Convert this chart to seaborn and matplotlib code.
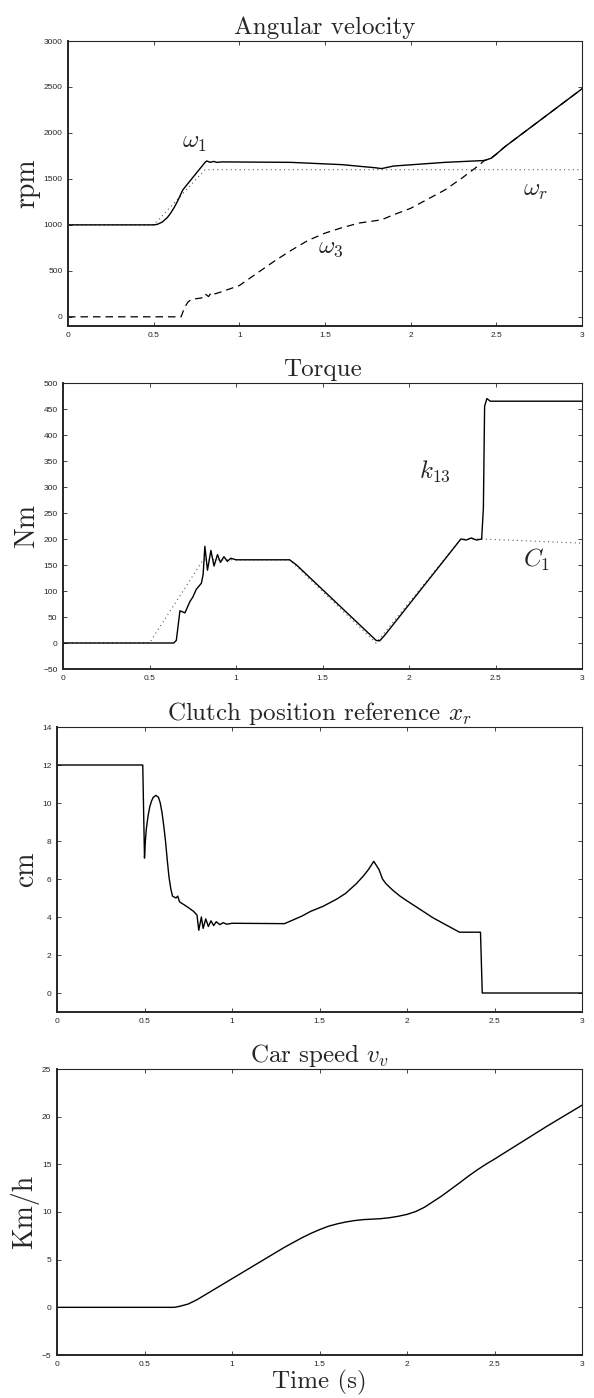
import numpy as np
import matplotlib
matplotlib.use("Agg")
import matplotlib.pyplot as plt
import seaborn as sns

# --- dados ---
xtick_vals = [0, 0.5, 1, 1.5, 2, 2.5, 3]
xtick_labels = ["0", "0.5", "1", "1.5", "2", "2.5", "3"]

# velocidade angular (rpm)
t_w1 = [0, 0.5, 0.52, 0.55, 0.58, 0.6, 0.62, 0.64, 0.66, 0.67, 0.7, 0.75, 0.8, 0.81, 0.83,
        0.85, 0.87, 0.9, 1.3, 1.6, 1.8, 1.83, 1.9, 2.2, 2.43, 2.47, 2.5, 2.55, 2.6, 3.0]
w1 = [1000, 1000, 1005, 1030, 1080, 1130, 1190, 1260, 1340, 1380, 1450, 1565, 1680, 1695, 1680,
      1690, 1680, 1685, 1680, 1655, 1620, 1612, 1640, 1680, 1700, 1725, 1770, 1850, 1920, 2480]
t_wr = [0, 0.5, 0.8, 3.0]
wr = [1000, 1000, 1600, 1600]
t_w3 = [0, 0.66, 0.68, 0.7, 0.72, 0.76, 0.78, 0.8, 0.82, 0.84, 0.86, 0.9, 1.0, 1.1, 1.2, 1.3,
        1.4, 1.5, 1.6, 1.7, 1.83, 1.9, 2.0, 2.1, 2.2, 2.3, 2.4, 2.43, 2.47, 2.5, 2.55, 2.6, 3.0]
w3 = [0, 0, 100, 160, 190, 200, 205, 250, 220, 270, 250, 275, 340, 470, 600, 720,
      830, 910, 970, 1020, 1055, 1110, 1180, 1280, 1380, 1510, 1650, 1700, 1725, 1770, 1850, 1920, 2480]

# torque (Nm)
t_k13 = [0, 0.64, 0.655, 0.676, 0.69, 0.705, 0.734, 0.75, 0.77, 0.8, 0.81, 0.82, 0.835, 0.855,
         0.873, 0.893, 0.91, 0.93, 0.95, 0.97, 1.0, 1.31, 1.35, 1.81, 1.83, 1.86, 2.3, 2.33,
         2.36, 2.39, 2.42, 2.43, 2.437, 2.45, 2.47, 3.0]
k13 = [0, 0, 5, 62, 60, 58, 80, 88, 103, 115, 132, 186, 140, 178,
       148, 170, 155, 166, 157, 163, 160, 160, 150, 5, 4, 15, 200, 198,
       202, 198, 200, 260, 455, 470, 465, 465]
t_c1 = [0, 0.5, 0.81, 1.31, 1.81, 2.3, 2.42, 3.0]
c1 = [0, 0, 160, 160, 0, 200, 200, 192]

# posição da embreagem (cm)
t_xr = [0, 0.49, 0.5, 0.505, 0.51, 0.52, 0.53, 0.54, 0.55, 0.565, 0.58, 0.59, 0.6, 0.61,
        0.62, 0.63, 0.64, 0.65, 0.66, 0.68, 0.69, 0.7, 0.75, 0.78,
        0.8, 0.81, 0.825, 0.835, 0.85, 0.865, 0.88, 0.895, 0.91, 0.93, 0.95, 0.97, 1.0,
        1.3, 1.35, 1.4, 1.45, 1.52, 1.6, 1.65, 1.71, 1.75, 1.78, 1.81, 1.84, 1.86, 1.88,
        1.92, 1.96, 2.0, 2.05, 2.1, 2.15, 2.2, 2.25, 2.3, 2.42, 2.43, 3.0]
xr = [12, 12, 7.1, 8.0, 8.6, 9.3, 9.8, 10.1, 10.3, 10.4, 10.3, 10.0, 9.5, 8.8,
      8.0, 7.0, 6.1, 5.5, 5.1, 5.0, 5.1, 4.8, 4.5, 4.3,
      4.1, 3.3, 4.0, 3.4, 3.9, 3.5, 3.8, 3.55, 3.75, 3.6, 3.7, 3.62, 3.67,
      3.65, 3.85, 4.05, 4.3, 4.56, 4.95, 5.25, 5.75, 6.15, 6.5, 6.93, 6.5, 6.0, 5.75,
      5.4, 5.1, 4.85, 4.55, 4.25, 3.95, 3.7, 3.45, 3.2, 3.2, 0, 0]

# velocidade do carro (km/h)
t_vv = [0, 0.67, 0.7, 0.75, 0.8, 0.85, 0.9, 1.0, 1.1, 1.2, 1.3, 1.4, 1.45, 1.5, 1.55, 1.6,
        1.65, 1.7, 1.75, 1.8, 1.85, 1.9, 1.95, 2.0, 2.05, 2.1, 2.2, 2.3, 2.35, 2.4, 2.45,
        2.5, 2.6, 2.7, 2.8, 2.9, 3.0]
vv = [0, 0, 0.1, 0.35, 0.8, 1.35, 1.9, 3.0, 4.1, 5.2, 6.3, 7.3, 7.75, 8.15, 8.5, 8.75,
      8.95, 9.1, 9.2, 9.25, 9.3, 9.4, 9.55, 9.75, 10.05, 10.5, 11.7, 13.05, 13.75, 14.4, 15.0,
      15.55, 16.7, 17.85, 19.0, 20.1, 21.2]

# --- estilo ---
sns.set_style("ticks")
plt.rcParams['font.family'] = ['Liberation Sans', 'DejaVu Sans']
plt.rcParams['mathtext.fontset'] = 'cm'
plt.rcParams['xtick.direction'] = 'in'
plt.rcParams['ytick.direction'] = 'in'
plt.rcParams['xtick.labelsize'] = 6
plt.rcParams['ytick.labelsize'] = 6
plt.rcParams['axes.linewidth'] = 0.8

SERIF = 'cmr10'
TITLE_FS = 18
LABEL_FS = 20
MATH_FS = 18

fig = plt.figure(figsize=(5.94, 13.98), dpi=100)
W, H = 594.0, 1398.0


def make_axes(left, right, top, bottom):
    return fig.add_axes([left / W, 1 - bottom / H, (right - left) / W, (bottom - top) / H])


def style_axes(ax, ylim, yticks, title, ylabel):
    ax.set_xlim(0, 3)
    ax.set_ylim(*ylim)
    ax.set_xticks(xtick_vals)
    ax.set_xticklabels(xtick_labels)
    ax.set_yticks(yticks)
    ax.set_yticklabels([str(v).replace('-', '\u2212') for v in yticks])
    ax.tick_params(top=True, right=True, length=3, width=0.6, pad=4)
    ax.spines['left'].set_linewidth(1.4)
    ax.spines['bottom'].set_linewidth(1.4)
    ax.set_title(title, fontfamily=SERIF, fontsize=TITLE_FS, pad=5)
    ax.set_ylabel(ylabel, fontfamily=SERIF, fontsize=LABEL_FS, labelpad=2)
    ax.set_xlabel('')


# painel 1: velocidade angular
ax1 = make_axes(68, 582, 41, 326)
sns.lineplot(x=t_wr, y=wr, ax=ax1, color='0.35', linewidth=0.8, linestyle=(0, (1, 3)), errorbar=None)
sns.lineplot(x=t_w3, y=w3, ax=ax1, color='k', linewidth=0.9, linestyle=(0, (6, 4)), errorbar=None)
sns.lineplot(x=t_w1, y=w1, ax=ax1, color='k', linewidth=1.0, errorbar=None)
style_axes(ax1, (-100, 3000), list(range(0, 3001, 500)), 'Angular velocity', 'rpm')
ax1.text(0.74, 1900, r'$\omega_1$', fontsize=MATH_FS, ha='center', va='center')
ax1.text(2.73, 1380, r'$\omega_r$', fontsize=MATH_FS, ha='center', va='center')
ax1.text(1.535, 760, r'$\omega_3$', fontsize=MATH_FS, ha='center', va='center')

# painel 2: torque
ax2 = make_axes(63, 582, 383, 669)
sns.lineplot(x=t_c1, y=c1, ax=ax2, color='0.35', linewidth=0.8, linestyle=(0, (1, 3)), errorbar=None)
sns.lineplot(x=t_k13, y=k13, ax=ax2, color='k', linewidth=1.0, errorbar=None)
style_axes(ax2, (-50, 500), list(range(-50, 501, 50)), 'Torque', 'Nm')
ax2.text(2.15, 330, r'$k_{13}$', fontsize=MATH_FS, ha='center', va='center')
ax2.text(2.74, 160, r'$C_1$', fontsize=MATH_FS, ha='center', va='center')

# painel 3: posição da embreagem
ax3 = make_axes(57, 582, 727, 1012)
sns.lineplot(x=t_xr, y=xr, ax=ax3, color='k', linewidth=1.0, errorbar=None)
style_axes(ax3, (-1, 14), list(range(0, 15, 2)), r'Clutch position reference $x_r$', 'cm')

# painel 4: velocidade do carro
ax4 = make_axes(57, 582, 1069, 1355)
sns.lineplot(x=t_vv, y=vv, ax=ax4, color='k', linewidth=1.0, errorbar=None)
style_axes(ax4, (-5, 25), list(range(-5, 26, 5)), r'Car speed $v_v$', 'Km/h')
ax4.set_xlabel('Time (s)', fontfamily=SERIF, fontsize=TITLE_FS, labelpad=2)

fig.savefig('out.png', dpi=100)
